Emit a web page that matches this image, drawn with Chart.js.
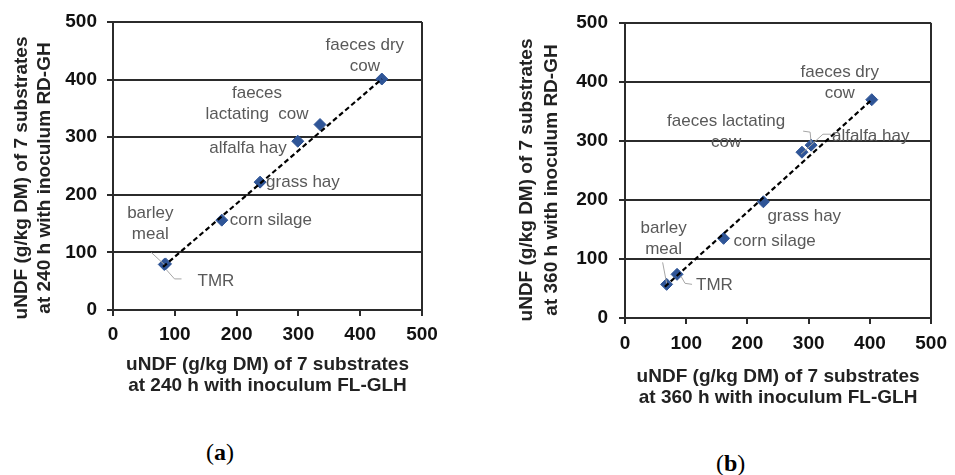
<!DOCTYPE html>
<html>
<head>
<meta charset="utf-8">
<script src="https://cdn.jsdelivr.net/npm/chart.js@4"></script>
<style>
body { margin: 0; background: #fff; width: 955px; height: 475px; position: relative; overflow: hidden; }
canvas { position: absolute; }
#chartA { left: 0; top: 0; }
#chartB { left: 480px; top: 0; }
.cap { position: absolute; font-family: "Liberation Serif", serif; font-size: 24px; line-height: 1; color: #000; }
</style>
</head>
<body>
<canvas id="chartA" width="480" height="400"></canvas>
<canvas id="chartB" width="475" height="420"></canvas>
<div class="cap" style="left:206px;top:440px">(<b>a</b>)</div>
<div class="cap" style="left:716px;top:451px">(<b>b</b>)</div>
<script>
'use strict';

// substrates, same order in every array
const substrates = ['barley meal', 'TMR', 'corn silage', 'grass hay', 'alfalfa hay', 'faeces lactating cow', 'faeces dry cow'];

// 240 h incubation
const fl240 = [83, 85, 176, 238, 299, 335, 435];
const rd240 = [79, 80, 156, 222, 293, 322, 401];
// 360 h incubation
const fl360 = [68, 85, 161, 226, 289, 304, 403];
const rd360 = [57, 74, 135, 197, 281, 293, 370];

// dashed trend lines (ends)
const trendX240 = [81, 435];
const trendY240 = [75, 401];
const trendX360 = [65, 403];
const trendY360 = [53, 370];

const axisTicks = [0, 100, 200, 300, 400, 500];

const FONT = 'Liberation Sans, Arial, sans-serif';
const LINE = '#2b2b2b';

// label placement, pixels relative to each point (index = substrate)
const layoutA = {
  top: 22, right: 58, yw: 113, xh: 90, xpad: 7, ypad: 10, xtb: 3.5,
  yTitle: { x1: 22, x2: 45, cy: 178, lines: ['uNDF (g/kg DM) of 7 substrates', 'at 240 h with inoculum RD-GH'] },
  xTitle: ['uNDF (g/kg DM) of 7 substrates', 'at 240 h with inoculum FL-GLH'],
  lh: 21,
  labels: [
    { lines: ['barley', 'meal'], dx: -14, dy: -51, align: 'center', leader: [[-13, -12], [0, 0]] },
    { lines: ['TMR'], dx: 32, dy: 17, align: 'left', leader: [[1, 6], [9, 15], [16, 15]] },
    { lines: ['corn silage'], dx: 8, dy: 0, align: 'left' },
    { lines: ['grass hay'], dx: 6, dy: 0, align: 'left' },
    { lines: ['alfalfa hay'], dx: -11, dy: 7, align: 'right' },
    { lines: ['faeces', 'lactating  cow'], dx: -63, dy: -31, align: 'center' },
    { lines: ['faeces dry', 'cow'], dx: -17, dy: -34, align: 'center' }
  ]
};

const layoutB = {
  top: 23, right: 19, yw: 145, xh: 102, xpad: 8, ypad: 11, xtb: 11.5,
  yTitle: { x1: 47, x2: 72, cy: 180, lines: ['uNDF (g/kg DM) of 7 substrates', 'at 360 h with inoculum RD-GH'] },
  xTitle: ['uNDF (g/kg DM) of 7 substrates', 'at 360 h with inoculum FL-GLH'],
  lh: 21,
  labels: [
    { lines: ['barley', 'meal'], dx: -3, dy: -56, align: 'center', leader: [[-4, -22], [0, -1]] },
    { lines: ['TMR'], dx: 19, dy: 11, align: 'left', leader: [[15, 10], [8, 9], [4, 2]] },
    { lines: ['corn silage'], dx: 10, dy: 3, align: 'left' },
    { lines: ['grass hay'], dx: 4, dy: 15, align: 'left' },
    { lines: ['alfalfa hay'], dx: 30, dy: -16, align: 'left', leader: [[29, -18], [21, -18], [-1, 2]] },
    { lines: ['faeces lactating', 'cow'], dx: -85, dy: -24, align: 'center', leader: [[-8, -14], [-1, -13], [0, -2]] },
    { lines: ['faeces dry', 'cow'], dx: -32, dy: -27, align: 'center' }
  ]
};

function makeChart(id, xs, ys, tx, ty, L) {
  let pts = xs.map((x, i) => ({ x: x, y: ys[i] }));
  let trend = tx.map((x, i) => ({ x: x, y: ty[i] }));

  // point labels, leader lines and rotated y title
  let labelPlugin = {
    id: 'ptLabels' + id,
    afterDatasetsDraw(chart) {
      let ctx = chart.ctx;
      let sx = chart.scales.x, sy = chart.scales.y;
      ctx.save();
      ctx.strokeStyle = '#a6a6a6';
      ctx.lineWidth = 1;
      ctx.fillStyle = '#595959';
      ctx.font = '17px ' + FONT;
      ctx.textBaseline = 'middle';
      for (let i = 0; i < L.labels.length; i++) {
        let lab = L.labels[i];
        let px = sx.getPixelForValue(xs[i]);
        let py = sy.getPixelForValue(ys[i]);
        if (lab.leader) {
          ctx.beginPath();
          lab.leader.forEach((p, k) => {
            if (k === 0) ctx.moveTo(px + p[0], py + p[1]);
            else ctx.lineTo(px + p[0], py + p[1]);
          });
          ctx.stroke();
        }
        ctx.textAlign = lab.align;
        lab.lines.forEach((t, k) => {
          ctx.fillText(t, px + lab.dx, py + lab.dy + k * L.lh);
        });
      }
      ctx.restore();
    },
    afterDraw(chart) {
      let ctx = chart.ctx;
      let t = L.yTitle;
      ctx.save();
      ctx.fillStyle = '#222';
      ctx.font = 'bold 19px ' + FONT;
      ctx.textAlign = 'center';
      ctx.textBaseline = 'middle';
      [t.x1, t.x2].forEach((x, k) => {
        ctx.save();
        ctx.translate(x, t.cy);
        ctx.rotate(-Math.PI / 2);
        ctx.fillText(t.lines[k], 0, 0);
        ctx.restore();
      });
      ctx.restore();
    }
  };

  return new Chart(document.getElementById(id), {
    type: 'scatter',
    data: {
      datasets: [
        { data: trend, showLine: true, fill: false, borderColor: '#000', borderWidth: 2.2,
          borderDash: [5, 3], pointRadius: 0, order: 1 },
        { data: pts, pointStyle: 'rectRot', pointRadius: 6, pointHoverRadius: 6,
          backgroundColor: '#2f5597', borderColor: '#2f5597', borderWidth: 1, order: 2 }
      ]
    },
    options: {
      responsive: false,
      animation: false,
      layout: { padding: { top: L.top, right: L.right, left: 0, bottom: 0 } },
      plugins: { legend: { display: false }, tooltip: { enabled: false } },
      scales: {
        x: {
          min: 0, max: 500,
          afterBuildTicks: s => { s.ticks = axisTicks.map(v => ({ value: v })); },
          afterFit: s => { s.height = L.xh; },
          grid: {
            color: c => (c.tick && c.tick.value === 500) ? LINE : 'rgba(0,0,0,0)',
            tickColor: LINE, tickLength: 6, lineWidth: 2
          },
          border: { color: LINE, width: 2 },
          ticks: { color: '#111', padding: L.xpad, maxRotation: 0,
            font: { family: FONT, weight: 'bold', size: 19 } },
          title: { display: true, text: L.xTitle, color: '#222',
            padding: { top: 0, bottom: L.xtb },
            font: { family: FONT, weight: 'bold', size: 19, lineHeight: 21 / 19 } }
        },
        y: {
          min: 0, max: 500,
          afterBuildTicks: s => { s.ticks = axisTicks.map(v => ({ value: v })); },
          afterFit: s => { s.width = L.yw; },
          grid: { color: LINE, tickColor: LINE, tickLength: 6, lineWidth: 2 },
          border: { color: LINE, width: 2 },
          ticks: { color: '#111', padding: L.ypad,
            font: { family: FONT, weight: 'bold', size: 19 } }
        }
      }
    },
    plugins: [labelPlugin]
  });
}

makeChart('chartA', fl240, rd240, trendX240, trendY240, layoutA);
makeChart('chartB', fl360, rd360, trendX360, trendY360, layoutB);
</script>
</body>
</html>
